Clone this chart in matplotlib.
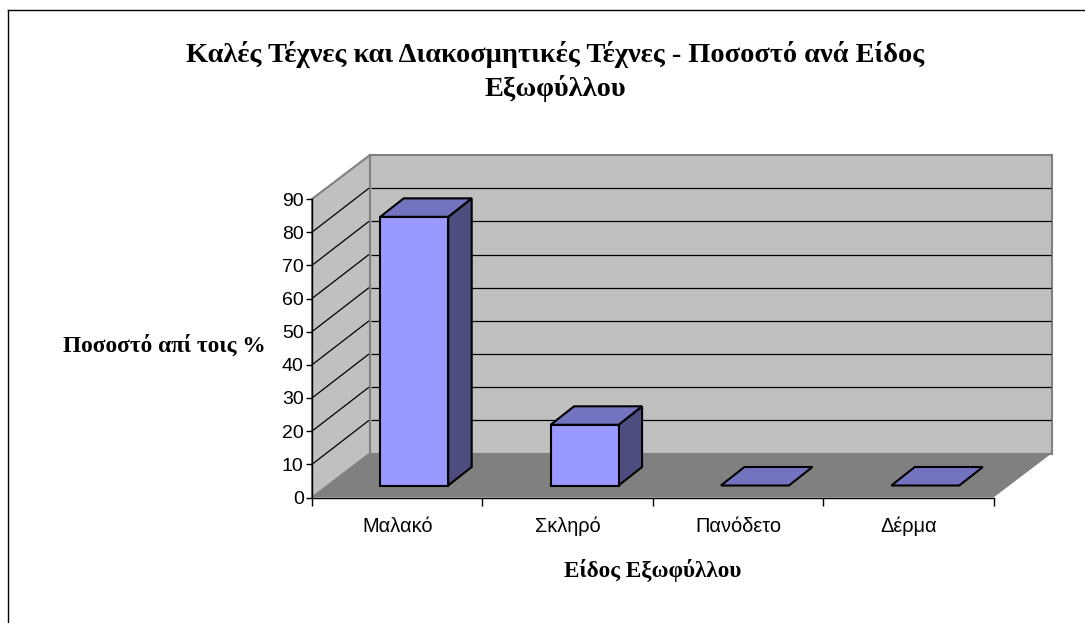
import matplotlib
matplotlib.use("Agg")
import matplotlib.pyplot as plt
from matplotlib.lines import Line2D
from matplotlib.patches import Polygon

# Dados
categorias = ["Μαλακό", "Σκληρό", "Πανόδετο", "Δέρμα"]
valores = [81, 18.3, 0, 0]
ticks_y = [0, 10, 20, 30, 40, 50, 60, 70, 80, 90]

titulo = "Καλές Τέχνες και Διακοσμητικές Τέχνες - Ποσοστό ανά Είδος\nΕξωφύλλου"
rotulo_x = "Είδος Εξωφύλλου"
rotulo_y = "Ποσοστό απί τοις %"

W, H = 1085, 623
fig = plt.figure(figsize=(W / 100, H / 100), dpi=100)

# eixos no plano da frente (em pixels da imagem)
esq, dir_, base, topo = 312, 993.5, 497.5, 199
ax = fig.add_axes([esq / W, 1 - base / H, (dir_ - esq) / W, (base - topo) / H])
ax.set_xlim(0, len(categorias))
ax.set_ylim(0, 90)
ax.patch.set_visible(False)

# profundidade em unidades de dados
px_x = len(categorias) / (dir_ - esq)
px_y = 90 / (base - topo)
prof_x, prof_y = 58 * px_x, 44 * px_y
n = len(categorias)


def poly(pts, face, edge="none", lw=0, z=1):
    ax.add_patch(Polygon(pts, closed=True, facecolor=face, edgecolor=edge, linewidth=lw,
                         zorder=z, clip_on=False, joinstyle="miter"))


# paredes e chao
poly([(prof_x, prof_y), (n + prof_x, prof_y), (n + prof_x, 90 + prof_y), (prof_x, 90 + prof_y)],
     "#c0c0c0", "#808080", 1.5, 1)
poly([(0, 0), (prof_x, prof_y), (prof_x, 90 + prof_y), (0, 90)], "#c0c0c0", "#808080", 1.5, 1)
poly([(0, 0), (n, 0), (n + prof_x, prof_y), (prof_x, prof_y)], "#808080", z=2)

# grade
for t in ticks_y[1:-1]:
    ax.plot([0, prof_x - 1 * px_x], [t, t + prof_y], color="black", lw=0.9,
            zorder=1.5, clip_on=False, solid_capstyle="butt")
    ax.plot([prof_x + 1 * px_x, n + prof_x - 1 * px_x], [t + prof_y, t + prof_y], color="black", lw=0.9,
            zorder=1.5, clip_on=False, solid_capstyle="butt")

# barras
larg = 68 * px_x
desl_x, desl_y = 17 * px_x, 12 * px_y
d_x, d_y = 23.5 * px_x, 18.5 * px_y
margem = (1 - 68 / 170.4) / 2

for i, v in enumerate(valores):
    x0 = i + margem + desl_x
    y0 = desl_y
    x1 = x0 + larg
    y1 = y0 + v
    if v > 0:
        # lado direito
        poly([(x1, y0), (x1 + d_x, y0 + d_y), (x1 + d_x, y1 + d_y), (x1, y1)],
             "#4d4d80", "black", 1.5, 3)
    # topo
    poly([(x0, y1), (x1, y1), (x1 + d_x, y1 + d_y), (x0 + d_x, y1 + d_y)],
         "#7373bf", "black", 1.5, 3)
    if v > 0:
        ax.bar(x0, v, width=larg, bottom=y0, align="edge", color="#9999ff", edgecolor="black",
               linewidth=1.5, zorder=4, clip_on=False)

# eixos
for lado in ["top", "right"]:
    ax.spines[lado].set_visible(False)
for lado in ["left", "bottom"]:
    ax.spines[lado].set_color("black")
    ax.spines[lado].set_linewidth(1)
    ax.spines[lado].set_zorder(5)

ax.set_yticks(ticks_y)
ax.set_xticks(range(n + 1))
ax.set_xticklabels([])
ax.set_xticks([i + 0.5 for i in range(n)], labels=categorias, minor=True)
ax.tick_params(axis="x", which="major", length=6, width=1, color="black")
ax.tick_params(axis="x", which="minor", length=0, pad=14, labelsize=14.4)
ax.tick_params(axis="y", length=4, width=1, pad=2, labelsize=14)
for lab in ax.get_xticklabels(minor=True) + ax.get_yticklabels():
    lab.set_fontfamily("Liberation Sans")
    lab.set_color("black")

# textos
linha1, linha2 = titulo.split("\n")
fig.text(555 / W, 1 - 54.5 / H, linha1, family="Liberation Serif", weight="bold",
         fontsize=20.4, ha="center", va="center")
fig.text(555 / W, 1 - 89 / H, linha2, family="Liberation Serif", weight="bold",
         fontsize=20.4, ha="center", va="center")
fig.text(164.5 / W, 1 - 345.5 / H, rotulo_y, family="Liberation Serif", weight="bold",
         fontsize=16.8, ha="center", va="center")
fig.text(652.5 / W, 1 - 570 / H, rotulo_x, family="Liberation Serif", weight="bold",
         fontsize=16.7, ha="center", va="center")

# moldura
fig.add_artist(Line2D([7.5 / W, 7.5 / W], [0, 1 - 9.5 / H], color="black", lw=1))
fig.add_artist(Line2D([7.5 / W, 1], [1 - 9.5 / H, 1 - 9.5 / H], color="black", lw=1))

fig.savefig("out.png", dpi=100)
